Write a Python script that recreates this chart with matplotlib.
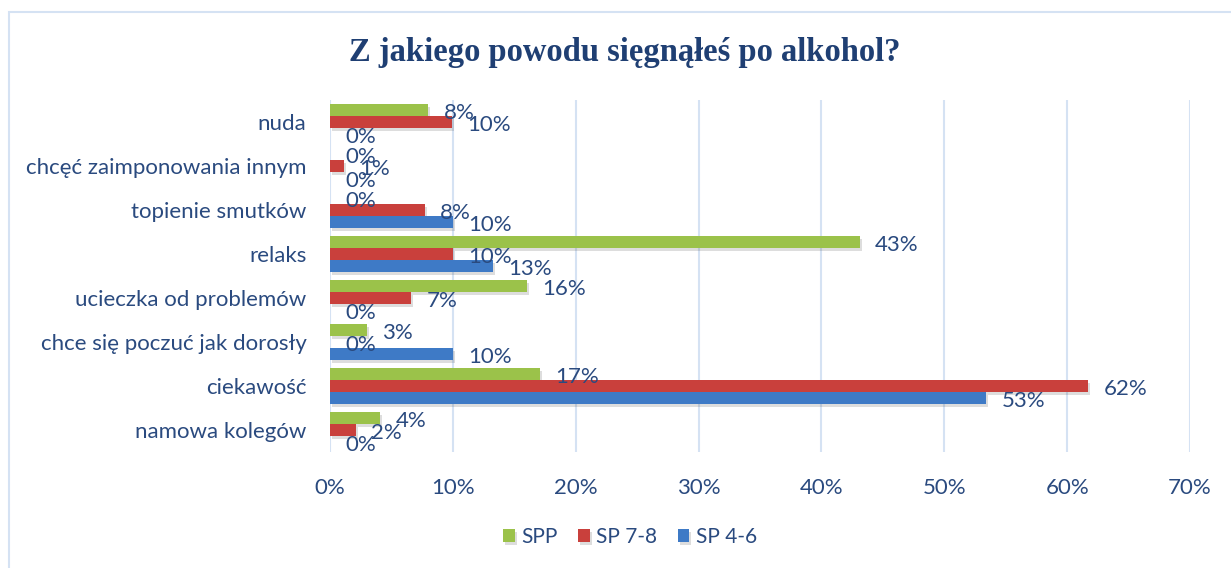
import matplotlib
matplotlib.use('Agg')
import matplotlib.pyplot as plt
import matplotlib.patheffects as pe
from matplotlib.patches import Rectangle
import numpy as np

# Dane (w procentach).
kategorie = ['nuda', 'chcęć zaimponowania innym', 'topienie smutków', 'relaks',
             'ucieczka od problemów', 'chce się poczuć jak dorosły', 'ciekawość',
             'namowa kolegów']
serie = ['SPP', 'SP 7-8', 'SP 4-6']
spp = [8.0, 0.0, 0.0, 43.1, 16.0, 3.0, 17.1, 4.1]
sp78 = [9.9, 1.1, 7.7, 10.0, 6.6, 0.0, 61.7, 2.1]
sp46 = [0.0, 0.0, 10.0, 13.3, 0.0, 10.0, 53.4, 0.0]
etyk_spp = ['8%', '0%', '0%', '43%', '16%', '3%', '17%', '4%']
etyk_sp78 = ['10%', '1%', '8%', '10%', '7%', '0%', '62%', '2%']
etyk_sp46 = ['0%', '0%', '10%', '13%', '0%', '10%', '53%', '0%']
osx = [0, 10, 20, 30, 40, 50, 60, 70]
tytul = 'Z jakiego powodu sięgnąłeś po alkohol?'

kolory = ['#9BC24A', '#C9403C', '#3E7AC6']
tekst = '#2A4A7F'
siatka = '#D5E2F3'

plt.rcParams['font.family'] = ['Lato', 'DejaVu Sans']

fig = plt.figure(figsize=(12.31, 5.68), dpi=100)
ax = fig.add_axes([330 / 1231, 1 - 452 / 568, 860 / 1231, 352 / 568])

# Ramka wykresu (tylko lewa i gorna krawedz sa widoczne).
fig.patches.append(Rectangle((9 / 1231, -0.1), 1.2, 1 - 12 / 568 + 0.1,
                             transform=fig.transFigure, fill=False,
                             edgecolor=siatka, linewidth=1.5))

y = np.arange(len(kategorie))
h = 0.273
cien = [pe.SimplePatchShadow(offset=(1.5, -2), alpha=0.18, shadow_rgbFace='#444444'), pe.Normal()]

dane = [(spp, etyk_spp, -h), (sp78, etyk_sp78, 0), (sp46, etyk_sp46, h)]
for (wart, etyk, off), kol, nazwa in zip(dane, kolory, serie):
    bary = ax.barh(y + off, wart, height=h, color=kol, label=nazwa, zorder=3)
    for b in bary:
        b.set_path_effects(cien)
    for yi, v, t in zip(y + off, wart, etyk):
        ax.annotate(t, (v, yi), xytext=(11, -2), textcoords='offset points',
                    ha='left', va='center', fontsize=16, color=tekst, zorder=4)

ax.set_xlim(0, 70)
ax.set_ylim(len(kategorie) - 0.5, -0.5)
ax.set_xticks(osx)
ax.set_xticklabels([f'{v}%' for v in osx])
ax.set_yticks(y)
ax.set_yticklabels(kategorie)
ax.tick_params(axis='both', length=0, labelsize=16, labelcolor=tekst)
ax.tick_params(axis='y', pad=17)
ax.tick_params(axis='x', pad=19)
ax.grid(axis='x', color=siatka, linewidth=1.5, zorder=0)
for s in ax.spines.values():
    s.set_visible(False)

fig.text(625 / 1231, 1 - 52 / 568, tytul, ha='center', va='center',
         fontsize=23.5, fontweight='bold', color='#1F3F73', family='Liberation Serif')

fig.legend(loc='center', bbox_to_anchor=(630 / 1231, 1 - 537 / 568), ncol=3,
           frameon=False, fontsize=15, labelcolor=tekst, handlelength=0.55,
           handleheight=0.55, handletextpad=0.3, columnspacing=1.0)

fig.savefig('out.png', dpi=100)
